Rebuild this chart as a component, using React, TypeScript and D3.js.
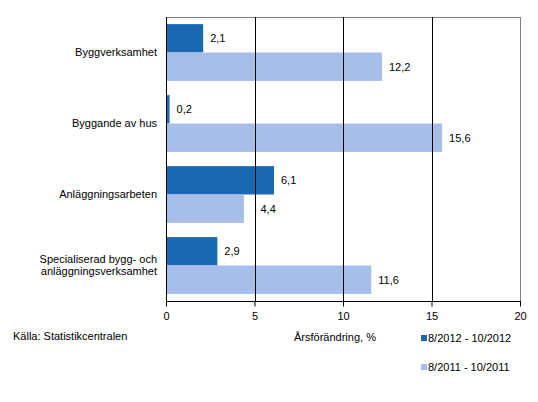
import { useEffect, useRef } from 'react'
import * as d3 from 'd3'

const categories = [
  ['Byggverksamhet'],
  ['Byggande av hus'],
  ['Anläggningsarbeten'],
  ['Specialiserad bygg- och', 'anläggningsverksamhet'],
]
const series2012 = [2.1, 0.2, 6.1, 2.9]
const series2011 = [12.2, 15.6, 4.4, 11.6]
const seriesNames = ['8/2012 - 10/2012', '8/2011 - 10/2011']
const xTicks = [0, 5, 10, 15, 20]

const W = 538, H = 402
const FONT = 'Liberation Sans, Arial, sans-serif'
const DARK = '#1a68b1'
const LIGHT = '#a7bdea'

export default function App() {
  const svgRef = useRef<SVGSVGElement>(null)

  useEffect(() => {
    const svg = d3.select(svgRef.current)
    svg.selectAll('*').remove()
    const M = { t: 17, l: 166, r: 520, b: 301 }

    const x = d3.scaleLinear().domain([0, 20]).range([M.l, M.r])
    const y = d3.scaleBand<number>().domain(d3.range(categories.length)).range([M.t, M.b]).paddingInner(0.2).paddingOuter(0.1)
    const sub = d3.scaleBand<number>().domain([0, 1]).range([0, y.bandwidth()])

    // frame (top + right grey)
    svg.append('line').attr('x1', M.l).attr('x2', M.r).attr('y1', M.t + 0.5).attr('y2', M.t + 0.5).attr('stroke', '#808080')
    svg.append('line').attr('x1', M.r + 0.5).attr('x2', M.r + 0.5).attr('y1', M.t).attr('y2', M.b).attr('stroke', '#808080')

    // bars
    const series = [series2012, series2011]
    const colors = [DARK, LIGHT]
    series.forEach((vals, si) => {
      vals.forEach((v, i) => {
        svg.append('rect')
          .attr('x', x(0)).attr('y', (y(i) as number) + (sub(si) as number))
          .attr('width', x(v) - x(0)).attr('height', sub.bandwidth())
          .attr('fill', colors[si])
      })
    })

    // gridlines
    xTicks.slice(1, -1).forEach(t => {
      svg.append('line').attr('x1', Math.round(x(t)) + 0.5).attr('x2', Math.round(x(t)) + 0.5)
        .attr('y1', M.t).attr('y2', M.b).attr('stroke', '#000')
    })

    // axes
    svg.append('g').attr('transform', `translate(0,${M.b + 0.5})`)
      .call(d3.axisBottom(x).tickValues(xTicks).tickSize(5).tickFormat(d => String(d)))
      .call(a => {
        a.select('.domain').attr('stroke', '#000').attr('d', `M${M.l},0H${M.r + 1}`)
        a.selectAll('.tick line').attr('stroke', '#000')
        a.selectAll('.tick text').attr('fill', '#000').attr('font-size', '11px').attr('font-family', FONT).attr('dy', '0.95em')
      })
    svg.append('line').attr('x1', M.l + 0.5).attr('x2', M.l + 0.5).attr('y1', M.t).attr('y2', M.b + 1).attr('stroke', '#000')

    // value labels
    const gridX = xTicks.slice(1, -1).map(t => x(t))
    series.forEach((vals, si) => {
      vals.forEach((v, i) => {
        const label = v.toFixed(1).replace('.', ',')
        const tw = label.length * 6
        let lx = x(v) + 7
        gridX.forEach(g => { if (g > lx - 2 && g < lx + tw) lx = g + 6 })
        svg.append('text')
          .attr('x', lx).attr('y', (y(i) as number) + (sub(si) as number) + sub.bandwidth() / 2)
          .attr('dy', '0.35em').attr('font-size', '11px').attr('font-family', FONT).attr('fill', '#000')
          .text(label)
      })
    })

    // category labels
    categories.forEach((lines, i) => {
      const cy = (y(i) as number) + y.bandwidth() / 2
      lines.forEach((ln, li) => {
        svg.append('text')
          .attr('x', 157).attr('y', cy + (li - (lines.length - 1) / 2) * 12)
          .attr('dy', '0.35em').attr('text-anchor', 'end')
          .attr('font-size', '11px').attr('font-family', FONT).attr('fill', '#000')
          .text(ln)
      })
    })

    // titles
    svg.append('text').attr('x', 294).attr('y', 337).attr('dy', '0.35em')
      .attr('font-size', '11px').attr('font-family', FONT).text('Årsförändring, %')
    svg.append('text').attr('x', 13).attr('y', 336).attr('dy', '0.35em')
      .attr('font-size', '11px').attr('font-family', FONT).text('Källa: Statistikcentralen')

    // legend
    seriesNames.forEach((name, i) => {
      const ly = 338 + i * 29
      svg.append('rect').attr('x', 421).attr('y', ly - 3).attr('width', 6).attr('height', 6).attr('fill', colors[i])
      svg.append('text').attr('x', 428).attr('y', ly).attr('dy', '0.35em')
        .attr('font-size', '11px').attr('font-family', FONT).text(name)
    })
  }, [])

  return (
    <div style={{ position: 'absolute', left: 0, top: 0 }}>
      <svg ref={svgRef} width={W} height={H} style={{ display: 'block', background: '#fff' }} />
    </div>
  )
}
